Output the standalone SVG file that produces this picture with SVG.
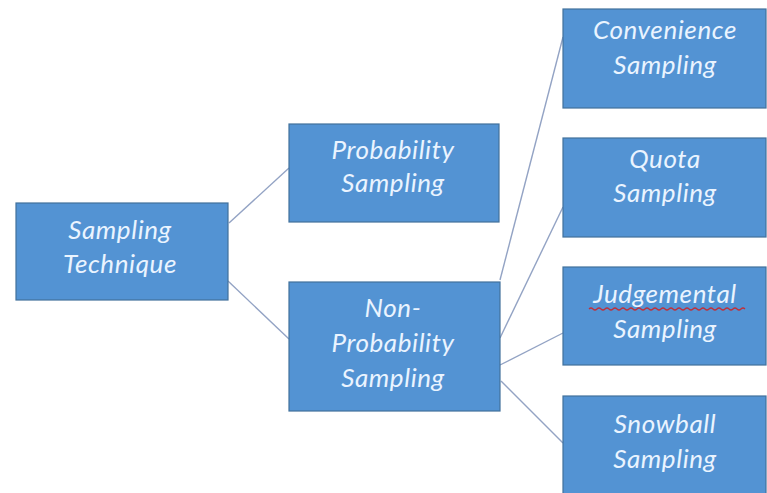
<svg xmlns="http://www.w3.org/2000/svg" width="767" height="493" viewBox="0 0 767 493">
  <style>
    .box { fill: #5393d3; stroke: #41719c; stroke-width: 1.2; }
    .lbl { font-family: Lato, "Open Sans", "Liberation Sans", sans-serif; font-style: italic; font-size: 26px; letter-spacing: 0.6px; fill: #eaf4ff; text-anchor: middle; }
    .link { stroke: #93a3c4; stroke-width: 1.4; fill: none; }
    .squiggle { stroke: #c0303a; stroke-width: 1.2; fill: none; }
  </style>
  <rect width="767" height="493" fill="#ffffff"/>

  <!-- connectors -->
  <g id="connectors">
    <line class="link" x1="229" y1="223" x2="289" y2="168"/>
    <line class="link" x1="228" y1="281" x2="289" y2="339"/>
    <line class="link" x1="500" y1="280" x2="563" y2="37"/>
    <line class="link" x1="500" y1="338" x2="563" y2="207"/>
    <line class="link" x1="500" y1="365" x2="563" y2="333"/>
    <line class="link" x1="501" y1="381" x2="563" y2="443"/>
  </g>

  <g id="sampling-technique">
    <rect class="box" x="16" y="203" width="212" height="97"/>
    <text class="lbl" x="120" y="239">Sampling</text>
    <text class="lbl" x="120" y="273">Technique</text>
  </g>

  <g id="probability-sampling">
    <rect class="box" x="289" y="124" width="210" height="98"/>
    <text class="lbl" x="393" y="159">Probability</text>
    <text class="lbl" x="393" y="192">Sampling</text>
  </g>

  <g id="non-probability-sampling">
    <rect class="box" x="289" y="282" width="211" height="129"/>
    <text class="lbl" x="393" y="317">Non-</text>
    <text class="lbl" x="393" y="352">Probability</text>
    <text class="lbl" x="393" y="387">Sampling</text>
  </g>

  <g id="convenience-sampling">
    <rect class="box" x="563" y="9" width="203" height="99"/>
    <text class="lbl" x="665" y="39">Convenience</text>
    <text class="lbl" x="665" y="74">Sampling</text>
  </g>

  <g id="quota-sampling">
    <rect class="box" x="563" y="138" width="203" height="99"/>
    <text class="lbl" x="665" y="168">Quota</text>
    <text class="lbl" x="665" y="202">Sampling</text>
  </g>

  <g id="judgemental-sampling">
    <rect class="box" x="563" y="267" width="203" height="98"/>
    <text class="lbl" x="665" y="303">Judgemental</text>
    <!-- spell-check wave under the word -->
    <path class="squiggle" d="M589 309 q2 -2 4 0 t4 0 t4 0 t4 0 t4 0 t4 0 t4 0 t4 0 t4 0 t4 0 t4 0 t4 0 t4 0 t4 0 t4 0 t4 0 t4 0 t4 0 t4 0 t4 0 t4 0 t4 0 t4 0 t4 0 t4 0 t4 0 t4 0 t4 0 t4 0 t4 0 t4 0 t4 0 t4 0 t4 0 t4 0 t4 0 t4 0 t4 0 t4 0"/>
    <text class="lbl" x="665" y="338">Sampling</text>
  </g>

  <g id="snowball-sampling">
    <rect class="box" x="563" y="396" width="203" height="100"/>
    <text class="lbl" x="665" y="433">Snowball</text>
    <text class="lbl" x="665" y="468">Sampling</text>
  </g>
</svg>
